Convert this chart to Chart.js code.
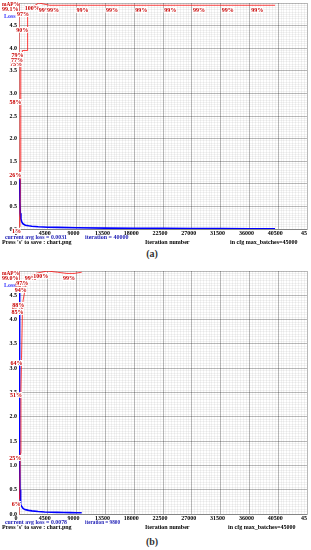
<!DOCTYPE html>
<html>
<head>
<meta charset="utf-8">
<script src="https://cdn.jsdelivr.net/npm/chart.js@4.4.0/dist/chart.umd.min.js"></script>
<style>
  body { margin: 0; background: #fff; width: 311px; height: 550px; position: relative; overflow: hidden; }
  canvas { position: absolute; left: 0; }
  .cap { position: absolute; left: 0; width: 304px; text-align: center; font: bold 10px 'Liberation Serif', serif; color: #333; line-height: 10px; }
</style>
</head>
<body>
<canvas id="chartA" width="311" height="246" style="top:0"></canvas>
<div class="cap" style="top:249px">(a)</div>
<canvas id="chartB" width="311" height="264" style="top:266px"></canvas>
<div class="cap" style="top:537px">(b)</div>
<script>
// tick labels (shared by both charts)
var xTickLabels = ['0', '4500', '9000', '13500', '18000', '22500', '27000', '31500', '36000', '40500', '45'];
var yTickLabels = ['0.0', '0.5', '1.0', '1.5', '2.0', '2.5', '3.0', '3.5', '4.0', '4.5', ''];

// chart (a) - loss curve
var lossIterA = [100, 150, 200, 300, 400, 600, 800, 1000, 1500, 2000, 3000, 4500, 6000, 9000, 13500, 18000, 22500, 27000, 31500, 36000, 40000];
var lossA = [1.1, 0.6, 0.35, 0.22, 0.17, 0.12, 0.1, 0.085, 0.07, 0.06, 0.05, 0.04, 0.035, 0.028, 0.02, 0.016, 0.013, 0.011, 0.009, 0.007, 0.006];
// chart (a) - mAP %
var mapIterA = [150, 200, 250, 300, 450, 550, 1250, 1300, 1400, 3100, 4800, 6100, 10700, 15300, 19900, 24400, 28900, 33400, 38000, 40000];
var mapA = [1, 26, 58, 75, 77, 79, 79, 90, 97, 100, 99, 99, 99, 99, 99, 99, 99, 99, 99, 99];
var mapLabelA = [1, 1, 1, 1, 1, 1, 0, 1, 1, 1, 1, 1, 1, 1, 1, 1, 1, 1, 1, 0];

// chart (b) - loss curve
var lossIterB = [40, 80, 120, 160, 200, 300, 400, 600, 800, 1000, 1500, 2000, 3000, 4000, 5000, 6000, 7000, 8000, 9000, 9800];
var lossB = [4.6, 2.6, 1.2, 0.5, 0.3, 0.2, 0.16, 0.12, 0.1, 0.09, 0.075, 0.065, 0.05, 0.042, 0.037, 0.033, 0.03, 0.028, 0.026, 0.025];
// chart (b) - mAP %
var mapIterB = [100, 200, 300, 400, 550, 600, 650, 1050, 1100, 1300, 2600, 4400, 6000, 7500, 8600, 9800];
var mapB = [6, 25, 51, 64, 85, 87, 88, 94, 96, 97, 99, 100, 99.5, 99, 99, 99.5];
var mapLabelB = [1, 1, 1, 1, 1, 1, 1, 1, 1, 1, 1, 1, 0, 0, 1, 0];

var RED = '#c80000';
var NAVY = '#1a1ab4';
var FONT = "'Liberation Serif', serif";

function isMajor(v, step) {
  return Math.round(v / step) % 10 === 0;
}

function gridColor(step) {
  return function (c) {
    if (!c.tick) return 'rgba(0,0,0,0.05)';
    return isMajor(c.tick.value, step) ? 'rgba(0,0,0,0.28)' : 'rgba(0,0,0,0.05)';
  };
}

// draws the mAP % labels and the fixed texts of the darknet chart
var textPlugin = {
  id: 'darknetText',
  afterDraw: function (chart) {
    var ctx = chart.ctx;
    var cfg = chart.options.plugins.darknetText;
    ctx.save();
    ctx.font = 'bold 6px ' + FONT;
    ctx.textBaseline = 'middle';
    // mAP labels
    var meta = chart.getDatasetMeta(0);
    ctx.textAlign = 'right';
    ctx.lineWidth = 2;
    ctx.strokeStyle = '#fff';
    cfg.mapLabels.forEach(function (show, i) {
      if (!show) return;
      var p = meta.data[i];
      var s = Math.round(cfg.mapValues[i]) + '%';
      ctx.strokeText(s, p.x + 1, p.y + 5);
      ctx.fillStyle = RED;
      ctx.fillText(s, p.x + 1, p.y + 5);
    });
    // static texts
    ctx.textAlign = 'left';
    cfg.texts.forEach(function (t) {
      ctx.fillStyle = t.c;
      ctx.fillText(t.t, t.x, t.y, t.w);
    });
    ctx.restore();
  }
};

function makeChart(id, h, plotTop, plotBottom, lossIter, loss, mapIter, mapVal, mapLbl, texts) {
  var lossPts = lossIter.map(function (it, i) { return { x: it, y: loss[i] }; });
  var mapPts = mapIter.map(function (it, i) { return { x: it, y: mapVal[i] / 100 * 5 }; });
  return new Chart(document.getElementById(id), {
    type: 'scatter',
    data: {
      datasets: [{
        label: 'mAP%',
        data: mapPts,
        showLine: true,
        borderColor: 'rgba(255,0,0,0.75)',
        borderWidth: 1,
        pointRadius: 0,
        order: 0
      }, {
        label: 'Loss',
        data: lossPts,
        showLine: true,
        borderColor: '#0000ff',
        borderWidth: 1.6,
        pointRadius: 0,
        order: 1
      }]
    },
    options: {
      responsive: false,
      animation: false,
      layout: { padding: { top: plotTop, right: 4, left: 0, bottom: 0 } },
      plugins: {
        legend: { display: false },
        tooltip: { enabled: false },
        darknetText: { mapLabels: mapLbl, mapValues: mapVal, texts: texts }
      },
      scales: {
        x: {
          type: 'linear',
          min: 0,
          max: 45000,
          grid: { color: gridColor(450), lineWidth: 1, drawTicks: false },
          border: { color: 'rgba(0,0,0,0.28)' },
          ticks: {
            stepSize: 450,
            maxTicksLimit: 200,
            autoSkip: false,
            maxRotation: 0,
            padding: 1,
            labelOffset: -3,
            color: '#000',
            font: { family: FONT, size: 6, weight: 'bold' },
            callback: function (v) {
              return isMajor(v, 450) ? xTickLabels[Math.round(v / 4500)] : '';
            }
          },
          afterFit: function (s) {
            s.height = h - plotBottom;
            s.paddingLeft = 0;
            s.paddingRight = 0;
          }
        },
        y: {
          min: 0,
          max: 5,
          grid: { color: gridColor(0.05), lineWidth: 1, drawTicks: false },
          border: { color: 'rgba(255,0,0,0.4)' },
          ticks: {
            stepSize: 0.05,
            maxTicksLimit: 200,
            autoSkip: false,
            padding: 2,
            color: '#000',
            font: { family: FONT, size: 6, weight: 'bold' },
            callback: function (v) {
              return isMajor(v, 0.05) ? yTickLabels[Math.round(v / 0.5)] : '';
            }
          },
          afterFit: function (s) {
            s.width = 19;
            s.paddingTop = 0;
            s.paddingBottom = 0;
          }
        }
      }
    },
    plugins: [textPlugin]
  });
}

makeChart('chartA', 246, 3, 229, lossIterA, lossA, mapIterA, mapA, mapLabelA, [
  { t: 'mAP%', x: 2, y: 4, c: RED, w: 17 },
  { t: '99.1%', x: 2, y: 9.5, c: RED, w: 17 },
  { t: 'Loss', x: 4, y: 16, c: '#3a3aff', w: 12 },
  { t: 'current avg loss = 0.0031', x: 5, y: 237.5, c: NAVY, w: 62 },
  { t: 'iteration = 40000', x: 85, y: 237.5, c: NAVY, w: 47 },
  { t: "Press 's' to save : chart.png", x: 2, y: 242.5, c: '#000', w: 73 },
  { t: 'Iteration number', x: 145, y: 242.5, c: '#000', w: 47 },
  { t: 'in cfg max_batches=45000', x: 230, y: 242.5, c: '#000', w: 72 }
]);

makeChart('chartB', 264, 5, 248, lossIterB, lossB, mapIterB, mapB, mapLabelB, [
  { t: 'mAP%', x: 2, y: 7, c: RED, w: 17 },
  { t: '99.0%', x: 2, y: 12.5, c: RED, w: 17 },
  { t: 'Loss', x: 4, y: 19, c: '#3a3aff', w: 12 },
  { t: 'current avg loss = 0.0078', x: 5, y: 256.5, c: NAVY, w: 62 },
  { t: 'iteration = 9800', x: 85, y: 256.5, c: NAVY, w: 35 },
  { t: "Press 's' to save : chart.png", x: 2, y: 261.5, c: '#000', w: 70 },
  { t: 'Iteration number', x: 145, y: 261.5, c: '#000', w: 47 },
  { t: 'in cfg max_batches=45000', x: 228, y: 261.5, c: '#000', w: 74 }
]);
</script>
</body>
</html>
